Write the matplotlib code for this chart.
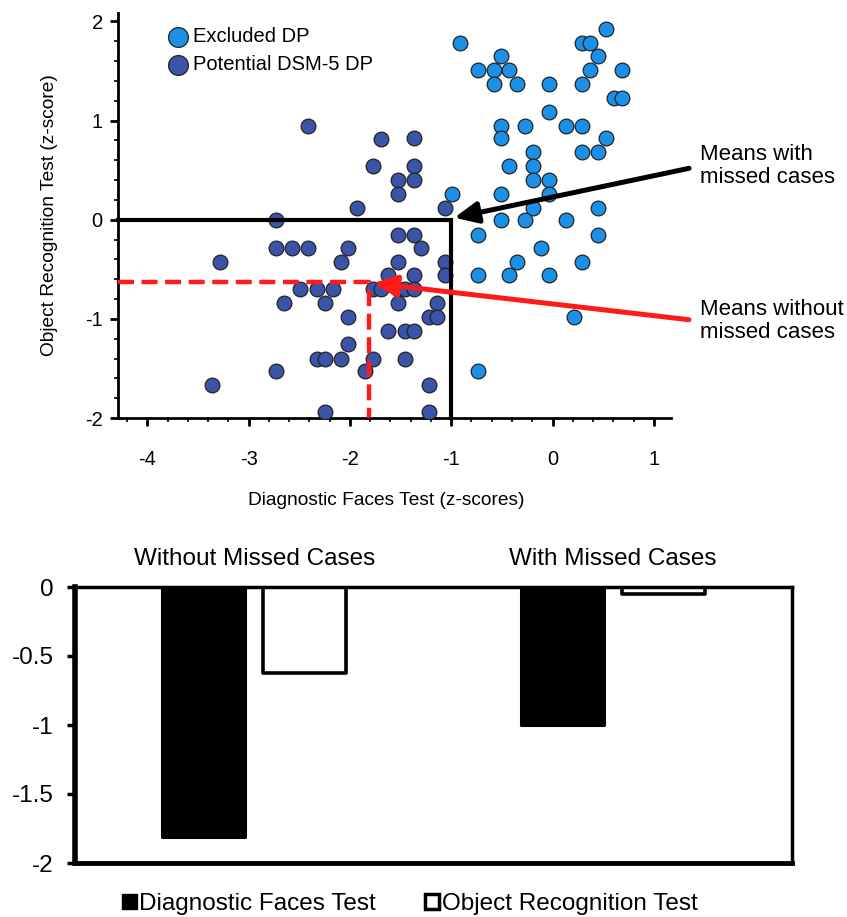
import matplotlib
matplotlib.use("Agg")
import matplotlib.pyplot as plt
from matplotlib.patches import Patch
from matplotlib.ticker import MultipleLocator
import numpy as np

plt.rcParams['font.family'] = ['Liberation Sans', 'DejaVu Sans']

# ---------------- data ----------------
excluded_x = [-0.91, 0.29, 0.37, 0.53, -0.51, 0.45, -0.74, -0.58, -0.43, 0.37, 0.69,
              -0.58, -0.35, -0.03, 0.29, 0.61, 0.69, -0.03, -0.51, -0.27, 0.13, 0.29,
              -0.51, 0.53, -0.19, 0.29, 0.45, -0.43, -0.19, -0.19, -0.03, -0.99, -0.51,
              -0.03, -0.19, 0.45, -0.51, -0.27, 0.13, -0.74, 0.45, -0.11, -0.35, 0.29,
              -0.74, -0.43, -0.03, 0.21, -0.74]
excluded_y = [1.78, 1.78, 1.78, 1.92, 1.65, 1.65, 1.51, 1.51, 1.51, 1.51, 1.51,
              1.37, 1.37, 1.37, 1.37, 1.23, 1.23, 1.09, 0.95, 0.95, 0.95, 0.95,
              0.82, 0.82, 0.68, 0.68, 0.68, 0.54, 0.54, 0.40, 0.40, 0.26, 0.26,
              0.26, 0.12, 0.12, 0.00, 0.00, 0.00, -0.15, -0.15, -0.29, -0.43, -0.43,
              -0.56, -0.56, -0.56, -0.98, -1.53]

dsm_x = [-2.41, -1.69, -1.77, -1.53, -1.53, -1.93, -2.73, -2.73, -2.57, -2.41, -2.02,
         -3.28, -2.09, -1.53, -1.53, -1.62, -2.49, -2.33, -2.17, -1.77, -1.69, -1.53,
         -2.65, -2.25, -1.53, -2.02, -1.62, -2.02, -2.33, -2.25, -2.09, -1.77, -2.73,
         -1.85, -3.36, -2.25, -1.37, -1.37, -1.37, -1.06, -1.37, -1.30, -1.06, -1.37,
         -1.06, -1.46, -1.37, -1.14, -1.22, -1.14, -1.46, -1.37, -1.46, -1.22, -1.22]
dsm_y = [0.95, 0.81, 0.54, 0.40, 0.26, 0.12, 0.00, -0.29, -0.29, -0.29, -0.29,
         -0.43, -0.43, -0.15, -0.43, -0.56, -0.70, -0.70, -0.70, -0.70, -0.70, -0.70,
         -0.84, -0.84, -0.84, -0.98, -1.12, -1.25, -1.40, -1.40, -1.40, -1.40, -1.53,
         -1.53, -1.67, -1.94, 0.82, 0.54, 0.40, 0.12, -0.15, -0.29, -0.43, -0.56,
         -0.56, -0.70, -0.70, -0.84, -0.98, -0.98, -1.12, -1.12, -1.40, -1.67, -1.94]

mean_with = (-1.00, 0.00)       # (faces, objects) with missed cases, scatter lines
mean_without = (-1.81, -0.63)   # without missed cases

groups = ["Without Missed Cases", "With Missed Cases"]
faces_vals = [-1.81, -1.00]
object_vals = [-0.62, -0.05]

x_ticks = [-4, -3, -2, -1, 0, 1]
y_ticks = [-2, -1, 0, 1, 2]
bar_yticks = [0, -0.5, -1, -1.5, -2]
bar_yticklabels = ["0", "-0.5", "-1", "-1.5", "-2"]

light = "#1a90e6"
dark = "#3a54a8"

W, H = 847, 917
fig = plt.figure(figsize=(W / 100, H / 100), dpi=100)

# ---------------- scatter ----------------
L, R, T, B = 118, 671, 13, 418
ax = fig.add_axes([L / W, 1 - B / H, (R - L) / W, (B - T) / H])
ax.set_xlim(-4.29, 1.17)
ax.set_ylim(-2.0, 2.085)
for s in ['top', 'right']:
    ax.spines[s].set_visible(False)
for s in ['left', 'bottom']:
    ax.spines[s].set_linewidth(2)

s_ex = ax.scatter(excluded_x, excluded_y, s=112, c=light, edgecolors='#222222',
                  linewidths=0.9, zorder=3, label='Excluded DP')
s_dsm = ax.scatter(dsm_x, dsm_y, s=112, c=dark, edgecolors='#222222',
                   linewidths=0.9, zorder=3, label='Potential DSM-5 DP')

xl = ax.get_xlim()[0]
yb = ax.get_ylim()[0]
ax.plot([xl, mean_with[0], mean_with[0]], [mean_with[1], mean_with[1], yb],
        color='black', lw=3, zorder=4, clip_on=False, solid_joinstyle='miter')
ax.plot([xl, mean_without[0], mean_without[0]], [mean_without[1], mean_without[1], yb],
        color='#ff1a1a', lw=3.2, zorder=4, dashes=(3.6, 1.7), clip_on=False)

ax.set_xticks(x_ticks)
ax.set_yticks(y_ticks)
ax.xaxis.set_minor_locator(MultipleLocator(0.2))
ax.yaxis.set_minor_locator(MultipleLocator(0.2))
ax.tick_params(which='major', length=6, width=2, labelsize=14.5, direction='out')
ax.tick_params(which='minor', length=3, width=1.2, direction='out')
ax.tick_params(axis='x', which='major', pad=17)
ax.tick_params(axis='y', which='major', pad=5)
ax.set_xticklabels([str(v) for v in x_ticks])
ax.set_yticklabels([str(v) for v in y_ticks])

ax.set_xlabel("Diagnostic Faces Test (z-scores)", fontsize=13.8)
ax.set_ylabel("Object Recognition Test (z-score)", fontsize=13.8)
ax.xaxis.set_label_coords((386 - L) / (R - L), -(492 - B) / (B - T))
ax.yaxis.set_label_coords(-(L - 58) / (R - L), 0.5)

leg = ax.legend(handles=[s_ex, s_dsm], loc='upper left',
                bbox_to_anchor=((168 - L) / (R - L), 1 - (27 - T) / (B - T)),
                frameon=False, fontsize=14.5, markerscale=1.35, handlelength=1.0,
                handletextpad=0.25, borderpad=0, borderaxespad=0, labelspacing=0.45)

ax.annotate("Means with\nmissed cases", xy=(-0.97, 0.02),
            xytext=(700, H - 166), textcoords='figure pixels',
            ha='left', va='center', fontsize=16, linespacing=1.15,
            annotation_clip=False,
            arrowprops=dict(arrowstyle='-|>,head_length=0.7,head_width=0.32',
                            color='black', lw=3.6, mutation_scale=20,
                            shrinkA=6, shrinkB=0, relpos=(0, 0.5)), zorder=5)
ax.annotate("Means without\nmissed cases", xy=(-1.77, -0.64),
            xytext=(700, H - 321), textcoords='figure pixels',
            ha='left', va='center', fontsize=16, linespacing=1.15,
            annotation_clip=False,
            arrowprops=dict(arrowstyle='-|>,head_length=0.7,head_width=0.32',
                            color='#ff1a1a', lw=3.6, mutation_scale=20,
                            shrinkA=6, shrinkB=0, relpos=(0, 0.5)), zorder=5)

# ---------------- bars ----------------
L2, R2, T2, B2 = 75, 792, 587, 863
ax2 = fig.add_axes([L2 / W, 1 - B2 / H, (R2 - L2) / W, (B2 - T2) / H])
xpos = np.arange(len(groups))
bw = 0.232
off = 0.141
ax2.bar(xpos - off, faces_vals, width=bw, color='black', edgecolor='black',
        linewidth=2.2, joinstyle='round', zorder=2)
ax2.bar(xpos + off, object_vals, width=bw, color='white', edgecolor='black',
        linewidth=2.6, joinstyle='round', zorder=2)
ax2.set_xlim(-0.5, 1.5)
ax2.set_ylim(-2, 0)
ax2.set_yticks(bar_yticks)
ax2.set_yticklabels(bar_yticklabels)
ax2.tick_params(axis='y', length=5.5, width=2.5, labelsize=17.5, pad=10)
ax2.xaxis.set_ticks_position('top')
ax2.set_xticks(xpos)
ax2.set_xticklabels(groups)
ax2.tick_params(axis='x', length=0, labelsize=17.5, pad=12)
ax2.spines['left'].set_linewidth(4)
ax2.spines['bottom'].set_linewidth(3.5)
ax2.spines['top'].set_linewidth(2.5)
ax2.spines['right'].set_linewidth(2.5)
for sp in ax2.spines.values():
    sp.set_zorder(3)

handles = [Patch(facecolor='black', edgecolor='black', linewidth=1),
           Patch(facecolor='white', edgecolor='black', linewidth=2.5)]
fig.legend(handles, ["Diagnostic Faces Test", "Object Recognition Test"],
           loc='center', bbox_to_anchor=(410 / W, 1 - 904 / H), ncol=2,
           frameon=False, fontsize=17.5, handlelength=0.6, handleheight=0.6,
           handletextpad=0.1, columnspacing=2.0, borderpad=0)

fig.savefig("out.png", dpi=100)
